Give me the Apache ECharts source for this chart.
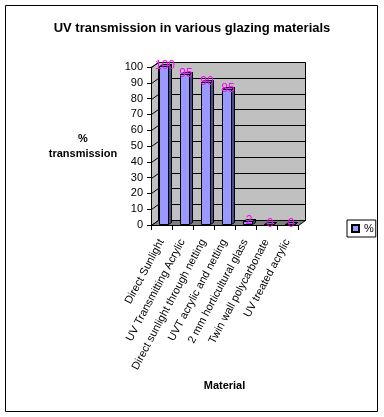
<!DOCTYPE html>
<html>
<head>
<meta charset="utf-8">
<script src="https://cdn.jsdelivr.net/npm/echarts@6/dist/echarts.min.js"></script>
<style>
html,body{margin:0;padding:0;background:#fff;}
#chart{width:384px;height:417px;}
</style>
</head>
<body>
<div id="chart"></div>
<script>
const titleText = 'UV transmission in various glazing materials';
const categories = ['Direct Sunlight', 'UV Transmitting Acrylic', 'Direct sunlight through netting', 'UVT acrylic and netting', '2 mm horticultural glass', 'Twin wall polycarbonate', 'UV treated acrylic'];
const values = [100, 95, 90, 85, 2, 0, 0];
const seriesName = '%';
const yTicks = [0, 10, 20, 30, 40, 50, 60, 70, 80, 90, 100];
const yAxisName = '%\ntransmission';
const xAxisName = 'Material';

const FONT = 'Arial, "Liberation Sans", sans-serif';
const DX = 7, DY = -5;

const chart = echarts.init(document.getElementById('chart'), null, {renderer: 'canvas'});

function wallsRender(params, api) {
  const cs = params.coordSys;
  const x = Math.round(cs.x) + 0.5, y = Math.round(cs.y) + 0.5;
  const w = Math.round(cs.width), h = Math.round(cs.height);
  const children = [];
  children.push({type: 'polygon', shape: {points: [[x, y], [x + DX, y + DY], [x + DX, y + h + DY], [x, y + h]]},
    style: {fill: '#C0C0C0', stroke: '#000', lineWidth: 1}});
  children.push({type: 'rect', shape: {x: x + DX, y: y + DY, width: w, height: h},
    style: {fill: '#C0C0C0', stroke: '#000', lineWidth: 1}});
  children.push({type: 'polygon', shape: {points: [[x, y + h], [x + DX, y + h + DY], [x + w + DX, y + h + DY], [x + w, y + h]]},
    style: {fill: '#808080', stroke: '#000', lineWidth: 1}});
  yTicks.forEach(function (v) {
    if (v === yTicks[0]) return;
    const yy = Math.round(api.coord([0, v])[1]) + 0.5;
    children.push({type: 'line', shape: {x1: x + DX, y1: yy + DY, x2: x + w + DX, y2: yy + DY}, style: {stroke: '#000', lineWidth: 1}});
    children.push({type: 'line', shape: {x1: x, y1: yy, x2: x + DX, y2: yy + DY}, style: {stroke: '#000', lineWidth: 1}});
  });
  return {type: 'group', children: children};
}

function barRender(params, api) {
  const idx = api.value(0), val = api.value(1);
  const top = api.coord([idx, val]);
  const base = api.coord([idx, 0]);
  const band = api.size([1, 0])[0];
  const bw = Math.round(band * 0.43);
  const ox = DX * 0.25, oy = DY * 0.25;
  const bdx = Math.round(DX * 0.45), bdy = Math.round(DY * 0.45);
  const x0 = Math.round(top[0] - bw / 2 + ox) + 0.5;
  const x1 = x0 + bw;
  const yT = Math.round(top[1] + oy) + 0.5;
  const yB = Math.round(base[1] + oy) + 0.5;
  return {
    type: 'group',
    children: [
      {type: 'polygon', shape: {points: [[x1, yT], [x1 + bdx, yT + bdy], [x1 + bdx, yB + bdy], [x1, yB]]},
        style: {fill: '#4C4C88', stroke: '#000', lineWidth: 1}},
      {type: 'polygon', shape: {points: [[x0, yT], [x0 + bdx, yT + bdy], [x1 + bdx, yT + bdy], [x1, yT]]},
        style: {fill: '#7777CC', stroke: '#000', lineWidth: 1}},
      {type: 'rect', shape: {x: x0, y: yT, width: bw, height: yB - yT},
        style: {fill: '#9999FF', stroke: '#000', lineWidth: 1}},
      {type: 'text', z2: 100, style: {text: String(val), x: x0 + bw / 2 + 1, y: yT - 1,
        align: 'center', verticalAlign: 'middle', fill: '#FF00FF', font: '12px ' + FONT}}
    ]
  };
}

const option = {
  backgroundColor: '#fff',
  animation: false,
  title: {
    text: titleText, left: 'center', top: 17,
    textStyle: {fontSize: 13, fontWeight: 'bold', color: '#000', fontFamily: FONT}
  },
  legend: {
    data: [{name: seriesName, icon: 'rect'}],
    left: 347, top: 220, orient: 'vertical',
    padding: [3, 2, 3, 4], itemWidth: 7, itemHeight: 7,
    borderColor: '#000', borderWidth: 1, backgroundColor: '#fff',
    textStyle: {fontSize: 11, color: '#000', fontFamily: FONT}
  },
  grid: {left: 151, right: 86, top: 67, bottom: 192, containLabel: false},
  xAxis: {
    type: 'category', data: categories, boundaryGap: true,
    name: xAxisName, nameLocation: 'middle', nameGap: 155,
    nameTextStyle: {fontSize: 11, fontWeight: 'bold', color: '#000', fontFamily: FONT},
    axisLine: {show: true, lineStyle: {color: '#000', width: 1}},
    axisTick: {show: true, length: 5, alignWithLabel: false, lineStyle: {color: '#000'}},
    axisLabel: {rotate: 62, interval: 0, margin: 15, fontSize: 11, color: '#000', fontFamily: FONT},
    splitLine: {show: false}
  },
  yAxis: {
    type: 'value', min: yTicks[0], max: yTicks[yTicks.length - 1], interval: 10,
    name: yAxisName, nameLocation: 'middle', nameGap: 68, nameRotate: 0,
    nameTextStyle: {fontSize: 11, fontWeight: 'bold', color: '#000', fontFamily: FONT, align: 'center', lineHeight: 15},
    axisLine: {show: true, lineStyle: {color: '#000', width: 1}},
    axisTick: {show: true, length: 4, lineStyle: {color: '#000'}},
    axisLabel: {margin: 8, fontSize: 11, color: '#000', fontFamily: FONT},
    splitLine: {show: false}
  },
  graphic: [{
    type: 'rect', shape: {x: 5.5, y: 5.5, width: 372, height: 406},
    style: {fill: 'none', stroke: '#000', lineWidth: 1}, silent: true, z: 100
  }],
  series: [
    {
      name: '__walls', type: 'custom', renderItem: wallsRender, data: [[0, 0]],
      encode: {x: 0, y: 1}, clip: false, silent: true, z: 1
    },
    {
      name: seriesName, type: 'custom', renderItem: barRender,
      data: values.map(function (v, i) { return [i, v]; }),
      encode: {x: 0, y: 1}, clip: false, z: 3,
      itemStyle: {color: '#9999FF', borderColor: '#000', borderWidth: 1}
    }
  ]
};
chart.setOption(option);
</script>
</body>
</html>
